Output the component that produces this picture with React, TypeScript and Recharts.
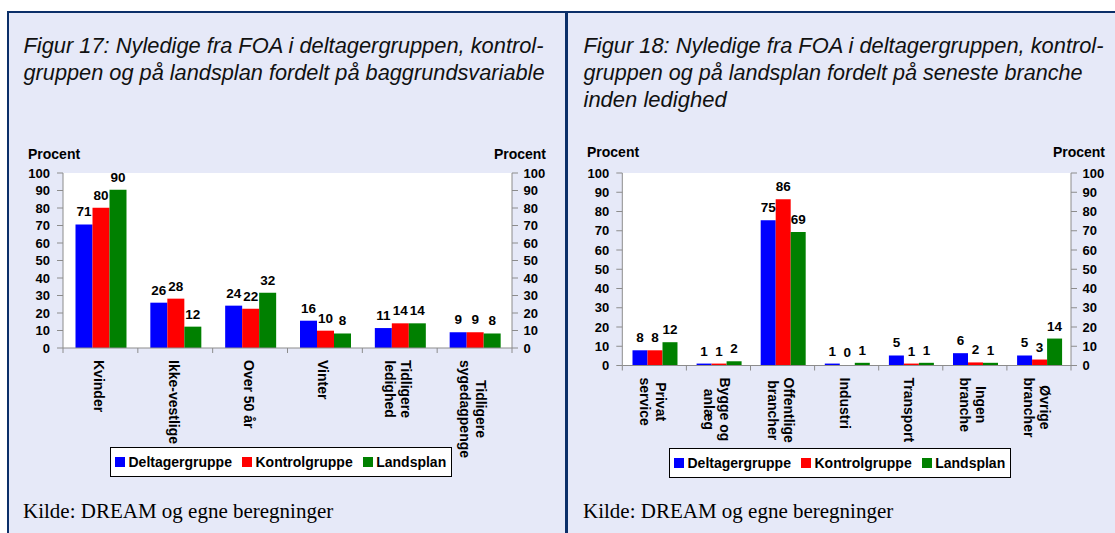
import React from 'react';
import { BarChart, Bar, XAxis, YAxis, CartesianGrid, LabelList, Legend } from 'recharts';

// Figur 17 / Figur 18 — two panels side by side, values in percent.

const SERIES = ['Deltagergruppe', 'Kontrolgruppe', 'Landsplan'];
const COLORS = ['#0000FF', '#FF0000', '#008000'];
const Y_TICKS = [0, 10, 20, 30, 40, 50, 60, 70, 80, 90, 100];

const FIG17_CATEGORIES = ['Kvinder', 'Ikke-vestlige', 'Over 50 år', 'Vinter', 'Tidligere\nledighed', 'Tidligere\nsygedagpenge'];
const FIG17_DELTAGER = [70.6, 25.9, 24.2, 15.6, 11.4, 9.0];
const FIG17_KONTROL = [80.2, 28.2, 22.4, 9.9, 14.1, 9.0];
const FIG17_LANDSPLAN = [90.4, 12.2, 31.6, 8.3, 14.1, 8.3];

const FIG18_CATEGORIES = ['Privat\nservice', 'Bygge og\nanlæg', 'Offentlige\nbrancher', 'Industri', 'Transport', 'Ingen\nbranche', 'Øvrige\nbrancher'];
const FIG18_DELTAGER = [7.9, 1.0, 75.4, 1.0, 5.2, 6.4, 5.2];
const FIG18_KONTROL = [7.9, 1.0, 86.4, 0.2, 1.0, 1.6, 3.1];
const FIG18_LANDSPLAN = [12.1, 2.2, 69.4, 1.4, 1.4, 1.4, 14.0];

const FIG17_TITLE = ['Figur 17: Nyledige fra FOA i deltagergruppen, kontrol-', 'gruppen og på landsplan fordelt på baggrundsvariable'];
const FIG18_TITLE = ['Figur 18: Nyledige fra FOA i deltagergruppen, kontrol-', 'gruppen og på landsplan fordelt på seneste branche', 'inden ledighed'];
const SOURCE = 'Kilde: DREAM og egne beregninger';

const FONT = '"Liberation Sans", Arial, Helvetica, sans-serif';
const AXIS = '#8c8c8c';
const FRAME = '#0b2f69';
const PANEL = '#e6e9f8';

function toRows(cats: string[], d: number[], k: number[], l: number[]) {
  return cats.map((name, i) => ({ name, d: d[i], k: k[i], l: l[i] }));
}

let measureCtx: CanvasRenderingContext2D | null = null;
function measure(text: string) {
  if (!measureCtx) measureCtx = document.createElement('canvas').getContext('2d');
  if (!measureCtx) return text.length * 8;
  measureCtx.font = `bold 14px ${FONT}`;
  return measureCtx.measureText(text).width;
}

function CategoryTick(props: any) {
  const { x, y, payload, index, band, count } = props;
  const lines = String(payload.value).split('\n');
  const lh = 16;
  const maxLen = Math.max(...lines.map(measure));
  const x0 = x - 6.5 + ((lines.length - 1) * lh) / 2;
  return (
    <g>
      <line x1={x - band / 2} x2={x - band / 2} y1={y} y2={y + 5} stroke={AXIS} />
      {index === count - 1 && <line x1={x + band / 2} x2={x + band / 2} y1={y} y2={y + 5} stroke={AXIS} />}
      <g transform={`translate(${x0},${y + 12}) rotate(90)`}>
        {lines.map((s, i) => (
          <text key={i} x={maxLen / 2} y={i * lh} textAnchor="middle" fontFamily={FONT} fontWeight="bold" fontSize={14} fill="#000">
            {s}
          </text>
        ))}
      </g>
    </g>
  );
}

function LegendBox({ payload }: any) {
  return (
    <div
      style={{
        boxSizing: 'border-box', width: '100%', height: '100%', background: '#fff',
        border: '1px solid #000', display: 'flex', alignItems: 'center', paddingLeft: 4,
        fontFamily: FONT, fontWeight: 'bold', fontSize: 14, color: '#000', whiteSpace: 'nowrap',
      }}
    >
      {(payload || []).map((p: any) => (
        <div key={p.value} style={{ display: 'flex', alignItems: 'center', marginRight: 10 }}>
          <span style={{ display: 'inline-block', width: 10, height: 10, background: p.color, marginRight: 3.5 }} />
          <span>{p.value}</span>
        </div>
      ))}
    </div>
  );
}

function FigChart({ rows, width, height, margin, xAxisHeight, legend, gap }: any) {
  const band = (width - margin.left - margin.right - 80) / rows.length;
  const label = { fontFamily: FONT, fontWeight: 'bold', fontSize: 13.5, fill: '#000' };
  const tick = { fontFamily: FONT, fontWeight: 'bold', fontSize: 13, fill: '#000' };
  return (
    <BarChart width={width} height={height} data={rows} margin={margin} barCategoryGap={gap} barGap={0}>
      <CartesianGrid fill="#fff" horizontal={false} vertical={false} stroke="none" />
      <XAxis
        dataKey="name"
        interval={0}
        height={xAxisHeight}
        stroke={AXIS}
        tickLine={false}
        tickSize={0}
        tickMargin={0}
        tick={<CategoryTick band={band} count={rows.length} />}
      />
      <YAxis yAxisId="left" orientation="left" domain={[0, 100]} ticks={Y_TICKS} interval={0} width={40} stroke={AXIS} tickSize={6} tickMargin={7} tick={tick} />
      <YAxis yAxisId="right" orientation="right" domain={[0, 100]} ticks={Y_TICKS} interval={0} width={40} stroke={AXIS} tickSize={6} tickMargin={5.5} tick={tick} />
      <Legend
        verticalAlign="middle"
        align="center"
        layout="horizontal"
        wrapperStyle={{ left: legend.left, top: legend.top, width: legend.width, height: legend.height, right: 'auto', bottom: 'auto' }}
        content={<LegendBox />}
      />
      {(['d', 'k', 'l'] as const).map((key, i) => (
        <Bar key={key} dataKey={key} yAxisId={i === 2 ? 'right' : 'left'} name={SERIES[i]} fill={COLORS[i]} isAnimationActive={false}>
          <LabelList dataKey={key} position="top" offset={8} style={label} formatter={(v: any) => Math.round(Number(v))} />
        </Bar>
      ))}
    </BarChart>
  );
}

export default function App() {
  const rows17 = toRows(FIG17_CATEGORIES, FIG17_DELTAGER, FIG17_KONTROL, FIG17_LANDSPLAN);
  const rows18 = toRows(FIG18_CATEGORIES, FIG18_DELTAGER, FIG18_KONTROL, FIG18_LANDSPLAN);
  const titleStyle = { fontFamily: FONT, fontStyle: 'italic', fontSize: 22, fill: '#111' } as const;
  const procent = { fontFamily: FONT, fontWeight: 'bold', fontSize: 14, fill: '#000' } as const;
  const source = { fontFamily: '"Liberation Serif", "Times New Roman", serif', fontSize: 21, fill: '#000' } as const;
  return (
    <div style={{ position: 'absolute', left: 0, top: 0, width: 1115, height: 533, background: '#fff', overflow: 'hidden' }}>
      <div style={{ position: 'absolute', left: 7, top: 11, width: 1108, height: 2, background: FRAME }} />
      <div style={{ position: 'absolute', left: 7, top: 11, width: 2, height: 522, background: FRAME }} />
      <div style={{ position: 'absolute', left: 9, top: 13, width: 556, height: 520, background: PANEL }} />
      <div style={{ position: 'absolute', left: 565, top: 11, width: 3, height: 522, background: FRAME }} />
      <div style={{ position: 'absolute', left: 568, top: 13, width: 547, height: 520, background: PANEL }} />

      <svg width={1115} height={533} style={{ position: 'absolute', left: 0, top: 0 }}>
        <text x={23.5} y={53} textLength={520} lengthAdjust="spacingAndGlyphs" style={titleStyle}>{FIG17_TITLE[0]}</text>
        <text x={23.5} y={80} textLength={521} lengthAdjust="spacingAndGlyphs" style={titleStyle}>{FIG17_TITLE[1]}</text>
        <text x={583.5} y={53} textLength={520} lengthAdjust="spacingAndGlyphs" style={titleStyle}>{FIG18_TITLE[0]}</text>
        <text x={583.5} y={80} textLength={499} lengthAdjust="spacingAndGlyphs" style={titleStyle}>{FIG18_TITLE[1]}</text>
        <text x={583.5} y={107} style={titleStyle}>{FIG18_TITLE[2]}</text>

        <text x={28} y={159} style={procent}>Procent</text>
        <text x={546} y={159} textAnchor="end" style={procent}>Procent</text>
        <text x={587} y={157} style={procent}>Procent</text>
        <text x={1105} y={157} textAnchor="end" style={procent}>Procent</text>

        <text x={23} y={518} style={source}>{SOURCE}</text>
        <text x={583} y={518} style={source}>{SOURCE}</text>
      </svg>

      <div style={{ position: 'absolute', left: 0, top: 140 }}>
        <FigChart
          rows={rows17}
          width={566}
          height={345}
          margin={{ top: 33, right: 14, bottom: 0, left: 23 }}
          xAxisHeight={137}
          legend={{ left: 110, top: 307, width: 342, height: 30 }}
          gap="16.7%"
        />
      </div>
      <div style={{ position: 'absolute', left: 566, top: 140 }}>
        <FigChart
          rows={rows18}
          width={549}
          height={345}
          margin={{ top: 33, right: 4, bottom: 0, left: 16.3 }}
          xAxisHeight={119.5}
          legend={{ left: 103, top: 308, width: 342, height: 30 }}
          gap="15.9%"
        />
      </div>
    </div>
  );
}
